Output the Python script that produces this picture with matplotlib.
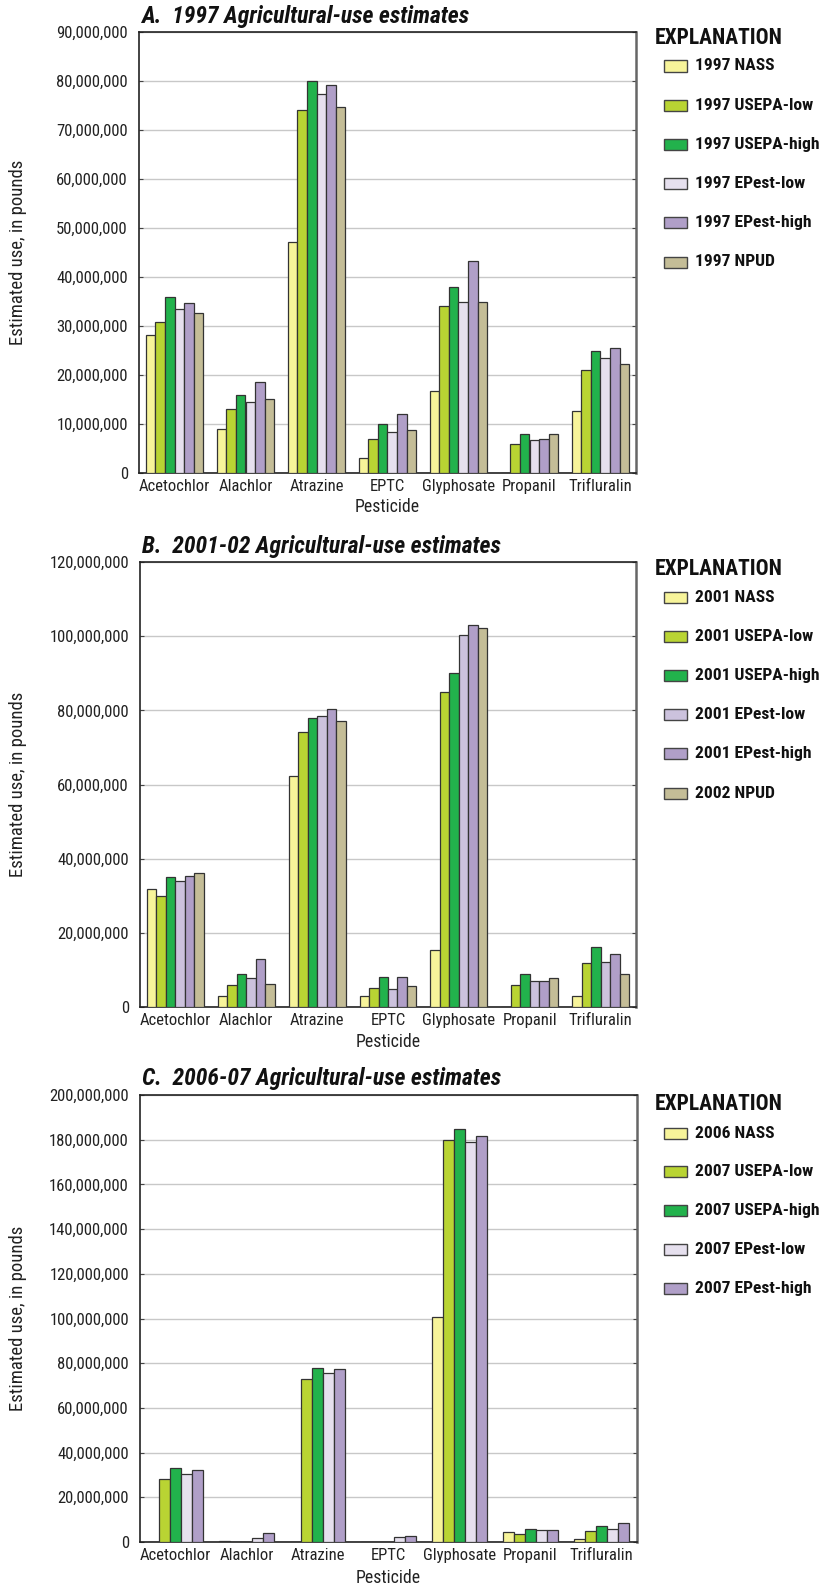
import matplotlib
matplotlib.use("Agg")
import matplotlib.pyplot as plt
from matplotlib import font_manager as fm
import numpy as np
from matplotlib.patches import Rectangle
from matplotlib.ticker import FuncFormatter, MultipleLocator

# pick a narrow sans-serif font if available
names = {f.name for f in fm.fontManager.ttflist}
cond = [f for f in fm.fontManager.ttflist if f.name == "DejaVu Sans" and "ondensed" in str(f.stretch)]
FAM = ['Liberation Sans', 'DejaVu Sans']
STRETCH = "normal"
SCALE = 1.0
for cand in ["Liberation Sans Narrow", "Roboto Condensed", "Open Sans Condensed", "Noto Sans Display"]:
    if cand in names:
        FAM = [cand, 'DejaVu Sans']
        break
else:
    if cond:
        FAM = ['DejaVu Sans']
        STRETCH = "condensed"
        SCALE = 0.95
    else:
        SCALE = 0.92
plt.rcParams['font.family'] = FAM
plt.rcParams['font.stretch'] = STRETCH

pesticides = ["Acetochlor", "Alachlor", "Atrazine", "EPTC", "Glyphosate", "Propanil", "Trifluralin"]

# Panel A (1997), millions of pounds
a_labels = ["1997 NASS", "1997 USEPA-low", "1997 USEPA-high", "1997 EPest-low", "1997 EPest-high", "1997 NPUD"]
a_nass = [28.2, 9.0, 47.2, 3.1, 16.8, 0.0, 12.6]
a_usepa_low = [30.9, 13.0, 74.0, 6.9, 34.0, 5.9, 21.0]
a_usepa_high = [36.0, 15.9, 80.0, 9.9, 38.0, 7.9, 25.0]
a_epest_low = [33.4, 14.4, 77.3, 8.3, 34.9, 6.7, 23.5]
a_epest_high = [34.7, 18.6, 79.2, 12.0, 43.3, 6.9, 25.5]
a_npud = [32.6, 15.1, 74.6, 8.75, 34.8, 8.0, 22.2]

# Panel B (2001-02)
b_labels = ["2001 NASS", "2001 USEPA-low", "2001 USEPA-high", "2001 EPest-low", "2001 EPest-high", "2002 NPUD"]
b_nass = [31.9, 3.1, 62.2, 3.1, 15.3, 0.0, 3.0]
b_usepa_low = [30.0, 5.9, 74.1, 5.0, 85.0, 6.0, 12.0]
b_usepa_high = [35.0, 9.0, 78.0, 8.0, 90.0, 9.0, 16.1]
b_epest_low = [33.9, 7.8, 78.6, 4.8, 100.3, 6.9, 12.1]
b_epest_high = [35.3, 12.9, 80.4, 8.0, 103.0, 6.9, 14.2]
b_npud = [36.2, 6.3, 77.0, 5.6, 102.3, 7.7, 9.0]

# Panel C (2006-07)
c_labels = ["2006 NASS", "2007 USEPA-low", "2007 USEPA-high", "2007 EPest-low", "2007 EPest-high"]
c_nass = [0.15, 0.6, 0.15, 0.15, 100.5, 4.5, 1.5]
c_usepa_low = [28.0, 0.0, 73.0, 0.0, 180.0, 3.8, 5.0]
c_usepa_high = [32.9, 0.0, 78.0, 0.0, 184.8, 6.0, 7.0]
c_epest_low = [30.5, 2.0, 75.6, 2.1, 179.1, 5.4, 6.0]
c_epest_high = [32.0, 4.2, 77.2, 2.7, 181.8, 5.4, 8.3]

col_nass = "#F7F49A"
col_low = "#B9D433"
col_high = "#22B24C"
col_elow = "#E6E0EE"
col_elow_b = "#CCC2DD"
col_ehigh = "#B09FC8"
col_npud = "#C4BD97"

W, H = 826, 1589
fig = plt.figure(figsize=(W / 100, H / 100), dpi=100)


def px_ax(l, t, r, b):
    return fig.add_axes([l / W, 1 - b / H, (r - l) / W, (b - t) / H])


panels = [
    dict(box=(139, 32, 636, 473), ymax=90, step=10,
         series=[a_nass, a_usepa_low, a_usepa_high, a_epest_low, a_epest_high, a_npud],
         labels=a_labels, colors=[col_nass, col_low, col_high, col_elow, col_ehigh, col_npud],
         title="A.  1997 Agricultural-use estimates", bw=0.134,
         leg_title_y=38, leg_y0=66, leg_dy=39.2, xlab_y=507),
    dict(box=(140, 562, 636, 1007), ymax=120, step=20,
         series=[b_nass, b_usepa_low, b_usepa_high, b_epest_low, b_epest_high, b_npud],
         labels=b_labels, colors=[col_nass, col_low, col_high, col_elow_b, col_ehigh, col_npud],
         title="B.  2001-02 Agricultural-use estimates", bw=0.134,
         leg_title_y=569, leg_y0=597, leg_dy=39.2, xlab_y=1042),
    dict(box=(140, 1095, 637, 1542), ymax=200, step=20,
         series=[c_nass, c_usepa_low, c_usepa_high, c_epest_low, c_epest_high],
         labels=c_labels, colors=[col_nass, col_low, col_high, col_elow, col_ehigh],
         title="C.  2006-07 Agricultural-use estimates", bw=0.155,
         leg_title_y=1104, leg_y0=1133, leg_dy=38.8, xlab_y=1578),
]

fmt = FuncFormatter(lambda v, p: "0" if v == 0 else f"{int(round(v * 1e6)):,}")
x = np.arange(len(pesticides))
fs = 12.0 * SCALE

for P in panels:
    l, t, r, b = P["box"]
    ax = px_ax(l, t, r, b)
    n = len(P["series"])
    bw = P["bw"]
    for i, (vals, col, lab) in enumerate(zip(P["series"], P["colors"], P["labels"])):
        off = (i - (n - 1) / 2) * bw
        ax.bar(x + off, vals, width=bw, color=col, edgecolor="#333333", linewidth=0.9,
               label=lab, zorder=3)
    ax.set_xlim(-0.5, len(pesticides) - 0.5)
    ax.set_ylim(0, P["ymax"])
    ax.yaxis.set_major_locator(MultipleLocator(P["step"]))
    ax.yaxis.set_major_formatter(fmt)
    ax.yaxis.grid(True, color="#C8C8C8", linewidth=1.0, zorder=0)
    ax.set_axisbelow(True)
    ax.set_xticks(x)
    ax.set_xticklabels(pesticides, fontsize=fs, color="#222222")
    ax.tick_params(axis="x", length=0, pad=4)
    ax.tick_params(axis="y", direction="in", length=3, labelsize=fs, pad=8,
                   right=True, color="#444444", labelcolor="#222222")
    for s in ["left", "top", "bottom"]:
        ax.spines[s].set_color("#222222")
        ax.spines[s].set_linewidth(1.2)
    ax.spines["right"].set_color("#666666")
    ax.spines["right"].set_linewidth(1.8)
    ax.set_xlabel("Pesticide", fontsize=12.8 * SCALE, color="#222222")
    ax.xaxis.set_label_coords(0.5, (b - P["xlab_y"]) / (b - t))
    ax.xaxis.label.set_va("center")
    ax.set_ylabel("Estimated use, in pounds", fontsize=13.5 * SCALE, color="#222222")
    ax.yaxis.set_label_coords((18 - l) / (r - l), 0.5)
    ax.yaxis.label.set_va("center")
    # title
    fig.text((l + 2) / W, 1 - (t - 16) / H, P["title"], fontsize=17 * SCALE, fontweight="bold",
             fontstyle="italic", va="center", ha="left", color="#111111")
    # explanation / legend
    fig.text(655 / W, 1 - P["leg_title_y"] / H, "EXPLANATION", fontsize=15.5 * SCALE,
             fontweight="bold", va="center", ha="left", color="#111111")
    for i, (col, lab) in enumerate(zip(P["colors"], P["labels"])):
        yc = P["leg_y0"] + i * P["leg_dy"]
        rect = Rectangle((664 / W, 1 - (yc + 5.5) / H), 23 / W, 11 / H,
                         transform=fig.transFigure, facecolor=col,
                         edgecolor="#444444", linewidth=1.0)
        fig.add_artist(rect)
        fig.text(695 / W, 1 - yc / H, lab, fontsize=12.6 * SCALE, fontweight="bold",
                 va="center", ha="left", color="#111111")

fig.savefig("out.png", dpi=100)
